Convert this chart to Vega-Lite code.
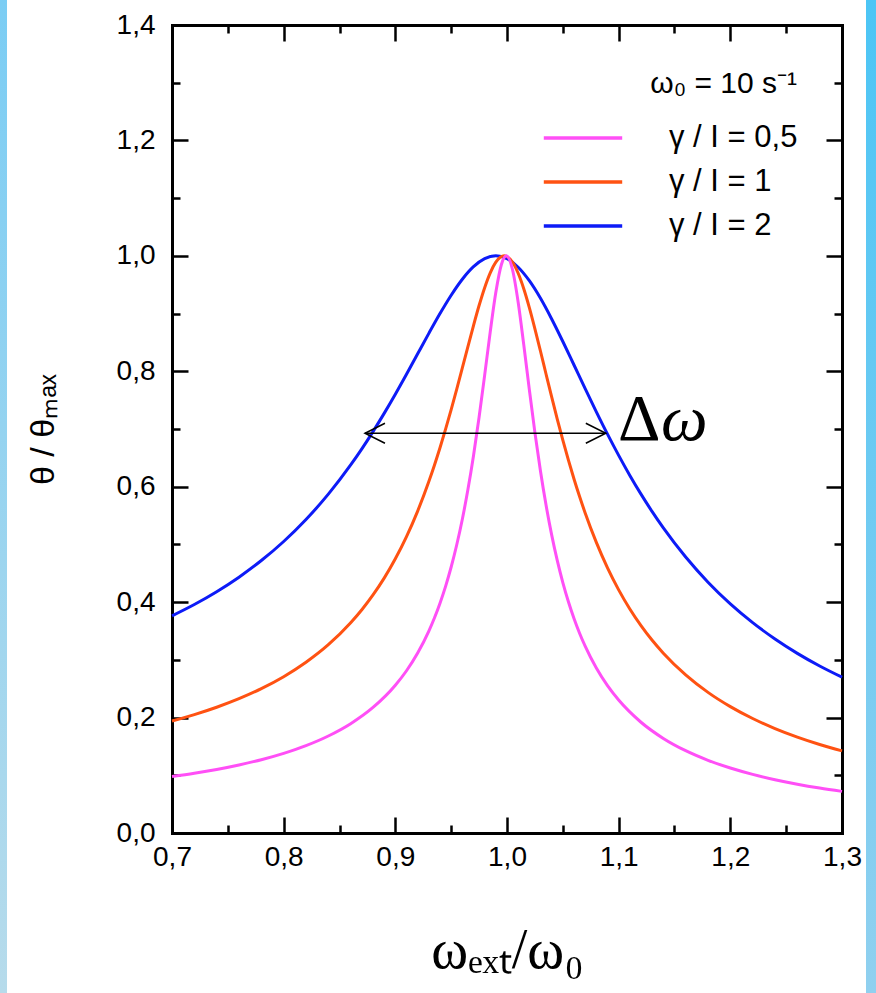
{
  "$schema": "https://vega.github.io/schema/vega-lite/v6.json",
  "background": "white",
  "padding": 0,
  "spacing": 0,
  "resolve": {"legend": {"color": "independent"}},
  "config": {"view": {"stroke": null}, "font": "Liberation Sans"},
  "hconcat": [
    {
      "width": 7, "height": 993,
      "data": {"values": []},
      "mark": {"type": "point"},
      "encoding": {},
      "view": {"stroke": null, "fill": {"gradient": "linear", "x1": 0, "y1": 0, "x2": 0, "y2": 1, "stops": [{"offset": 0, "color": "#7bcdf4"}, {"offset": 1, "color": "#b6dbeb"}]}}
    },
    {
      "width": 19, "height": 1,
      "data": {"values": []},
      "mark": {"type": "point"},
      "encoding": {}
    },
    {
      "spacing": 0,
      "resolve": {"legend": {"color": "independent"}},
      "vconcat": [
        {
          "width": 1, "height": 11,
          "data": {"values": []},
          "mark": {"type": "point"},
          "encoding": {}
        },
        {
          "width": 670,
          "height": 808,
          "resolve": {"axis": {"x": "independent", "y": "independent"}},
          "layer": [
            {
              "data": {"values": [
                {"r": 0.70, "v": 0.3763, "c": "γ / I = 2"},
                {"r": 0.72, "v": 0.3959, "c": "γ / I = 2"},
                {"r": 0.74, "v": 0.4181, "c": "γ / I = 2"},
                {"r": 0.76, "v": 0.4433, "c": "γ / I = 2"},
                {"r": 0.78, "v": 0.4721, "c": "γ / I = 2"},
                {"r": 0.80, "v": 0.5051, "c": "γ / I = 2"},
                {"r": 0.82, "v": 0.5432, "c": "γ / I = 2"},
                {"r": 0.84, "v": 0.5871, "c": "γ / I = 2"},
                {"r": 0.86, "v": 0.6377, "c": "γ / I = 2"},
                {"r": 0.87, "v": 0.6656, "c": "γ / I = 2"},
                {"r": 0.88, "v": 0.6955, "c": "γ / I = 2"},
                {"r": 0.89, "v": 0.7271, "c": "γ / I = 2"},
                {"r": 0.90, "v": 0.7603, "c": "γ / I = 2"},
                {"r": 0.91, "v": 0.7949, "c": "γ / I = 2"},
                {"r": 0.92, "v": 0.8303, "c": "γ / I = 2"},
                {"r": 0.93, "v": 0.8657, "c": "γ / I = 2"},
                {"r": 0.94, "v": 0.9000, "c": "γ / I = 2"},
                {"r": 0.95, "v": 0.9318, "c": "γ / I = 2"},
                {"r": 0.96, "v": 0.9595, "c": "γ / I = 2"},
                {"r": 0.97, "v": 0.9812, "c": "γ / I = 2"},
                {"r": 0.98, "v": 0.9952, "c": "γ / I = 2"},
                {"r": 0.99, "v": 1.0000, "c": "γ / I = 2"},
                {"r": 1.00, "v": 0.9950, "c": "γ / I = 2"},
                {"r": 1.01, "v": 0.9803, "c": "γ / I = 2"},
                {"r": 1.02, "v": 0.9569, "c": "γ / I = 2"},
                {"r": 1.03, "v": 0.9264, "c": "γ / I = 2"},
                {"r": 1.04, "v": 0.8906, "c": "γ / I = 2"},
                {"r": 1.05, "v": 0.8516, "c": "γ / I = 2"},
                {"r": 1.06, "v": 0.8109, "c": "γ / I = 2"},
                {"r": 1.07, "v": 0.7700, "c": "γ / I = 2"},
                {"r": 1.08, "v": 0.7298, "c": "γ / I = 2"},
                {"r": 1.09, "v": 0.6911, "c": "γ / I = 2"},
                {"r": 1.10, "v": 0.6543, "c": "γ / I = 2"},
                {"r": 1.11, "v": 0.6196, "c": "γ / I = 2"},
                {"r": 1.12, "v": 0.5871, "c": "γ / I = 2"},
                {"r": 1.13, "v": 0.5568, "c": "γ / I = 2"},
                {"r": 1.14, "v": 0.5286, "c": "γ / I = 2"},
                {"r": 1.16, "v": 0.4781, "c": "γ / I = 2"},
                {"r": 1.18, "v": 0.4346, "c": "γ / I = 2"},
                {"r": 1.20, "v": 0.3970, "c": "γ / I = 2"},
                {"r": 1.22, "v": 0.3645, "c": "γ / I = 2"},
                {"r": 1.24, "v": 0.3361, "c": "γ / I = 2"},
                {"r": 1.26, "v": 0.3112, "c": "γ / I = 2"},
                {"r": 1.28, "v": 0.2893, "c": "γ / I = 2"},
                {"r": 1.30, "v": 0.2699, "c": "γ / I = 2"},

                {"r": 0.70, "v": 0.1940, "c": "γ / I = 1"},
                {"r": 0.72, "v": 0.2051, "c": "γ / I = 1"},
                {"r": 0.74, "v": 0.2179, "c": "γ / I = 1"},
                {"r": 0.76, "v": 0.2327, "c": "γ / I = 1"},
                {"r": 0.78, "v": 0.2501, "c": "γ / I = 1"},
                {"r": 0.80, "v": 0.2708, "c": "γ / I = 1"},
                {"r": 0.82, "v": 0.2958, "c": "γ / I = 1"},
                {"r": 0.84, "v": 0.3262, "c": "γ / I = 1"},
                {"r": 0.86, "v": 0.3642, "c": "γ / I = 1"},
                {"r": 0.87, "v": 0.3868, "c": "γ / I = 1"},
                {"r": 0.88, "v": 0.4124, "c": "γ / I = 1"},
                {"r": 0.89, "v": 0.4416, "c": "γ / I = 1"},
                {"r": 0.90, "v": 0.4751, "c": "γ / I = 1"},
                {"r": 0.91, "v": 0.5135, "c": "γ / I = 1"},
                {"r": 0.92, "v": 0.5578, "c": "γ / I = 1"},
                {"r": 0.93, "v": 0.6090, "c": "γ / I = 1"},
                {"r": 0.935, "v": 0.6373, "c": "γ / I = 1"},
                {"r": 0.94, "v": 0.6675, "c": "γ / I = 1"},
                {"r": 0.945, "v": 0.6997, "c": "γ / I = 1"},
                {"r": 0.95, "v": 0.7337, "c": "γ / I = 1"},
                {"r": 0.955, "v": 0.7692, "c": "γ / I = 1"},
                {"r": 0.96, "v": 0.8058, "c": "γ / I = 1"},
                {"r": 0.965, "v": 0.8428, "c": "γ / I = 1"},
                {"r": 0.97, "v": 0.8793, "c": "γ / I = 1"},
                {"r": 0.975, "v": 0.9139, "c": "γ / I = 1"},
                {"r": 0.98, "v": 0.9449, "c": "γ / I = 1"},
                {"r": 0.985, "v": 0.9706, "c": "γ / I = 1"},
                {"r": 0.99, "v": 0.9890, "c": "γ / I = 1"},
                {"r": 0.9975, "v": 1.0000, "c": "γ / I = 1"},
                {"r": 1.005, "v": 0.9889, "c": "γ / I = 1"},
                {"r": 1.01, "v": 0.9698, "c": "γ / I = 1"},
                {"r": 1.015, "v": 0.9431, "c": "γ / I = 1"},
                {"r": 1.02, "v": 0.9104, "c": "γ / I = 1"},
                {"r": 1.025, "v": 0.8736, "c": "γ / I = 1"},
                {"r": 1.03, "v": 0.8347, "c": "γ / I = 1"},
                {"r": 1.035, "v": 0.7949, "c": "γ / I = 1"},
                {"r": 1.04, "v": 0.7555, "c": "γ / I = 1"},
                {"r": 1.045, "v": 0.7173, "c": "γ / I = 1"},
                {"r": 1.05, "v": 0.6807, "c": "γ / I = 1"},
                {"r": 1.055, "v": 0.6460, "c": "γ / I = 1"},
                {"r": 1.06, "v": 0.6134, "c": "γ / I = 1"},
                {"r": 1.065, "v": 0.5829, "c": "γ / I = 1"},
                {"r": 1.07, "v": 0.5545, "c": "γ / I = 1"},
                {"r": 1.08, "v": 0.5035, "c": "γ / I = 1"},
                {"r": 1.09, "v": 0.4594, "c": "γ / I = 1"},
                {"r": 1.10, "v": 0.4213, "c": "γ / I = 1"},
                {"r": 1.11, "v": 0.3882, "c": "γ / I = 1"},
                {"r": 1.12, "v": 0.3593, "c": "γ / I = 1"},
                {"r": 1.13, "v": 0.3339, "c": "γ / I = 1"},
                {"r": 1.14, "v": 0.3116, "c": "γ / I = 1"},
                {"r": 1.16, "v": 0.2740, "c": "γ / I = 1"},
                {"r": 1.18, "v": 0.2437, "c": "γ / I = 1"},
                {"r": 1.20, "v": 0.2190, "c": "γ / I = 1"},
                {"r": 1.22, "v": 0.1984, "c": "γ / I = 1"},
                {"r": 1.24, "v": 0.1810, "c": "γ / I = 1"},
                {"r": 1.26, "v": 0.1662, "c": "γ / I = 1"},
                {"r": 1.28, "v": 0.1534, "c": "γ / I = 1"},
                {"r": 1.30, "v": 0.1422, "c": "γ / I = 1"},

                {"r": 0.70, "v": 0.0978, "c": "γ / I = 0,5"},
                {"r": 0.72, "v": 0.1035, "c": "γ / I = 0,5"},
                {"r": 0.74, "v": 0.1101, "c": "γ / I = 0,5"},
                {"r": 0.76, "v": 0.1179, "c": "γ / I = 0,5"},
                {"r": 0.78, "v": 0.1270, "c": "γ / I = 0,5"},
                {"r": 0.80, "v": 0.1380, "c": "γ / I = 0,5"},
                {"r": 0.82, "v": 0.1514, "c": "γ / I = 0,5"},
                {"r": 0.84, "v": 0.1681, "c": "γ / I = 0,5"},
                {"r": 0.86, "v": 0.1894, "c": "γ / I = 0,5"},
                {"r": 0.88, "v": 0.2175, "c": "γ / I = 0,5"},
                {"r": 0.90, "v": 0.2560, "c": "γ / I = 0,5"},
                {"r": 0.91, "v": 0.2811, "c": "γ / I = 0,5"},
                {"r": 0.92, "v": 0.3118, "c": "γ / I = 0,5"},
                {"r": 0.93, "v": 0.3499, "c": "γ / I = 0,5"},
                {"r": 0.935, "v": 0.3725, "c": "γ / I = 0,5"},
                {"r": 0.94, "v": 0.3982, "c": "γ / I = 0,5"},
                {"r": 0.945, "v": 0.4274, "c": "γ / I = 0,5"},
                {"r": 0.95, "v": 0.4609, "c": "γ / I = 0,5"},
                {"r": 0.955, "v": 0.4994, "c": "γ / I = 0,5"},
                {"r": 0.96, "v": 0.5437, "c": "γ / I = 0,5"},
                {"r": 0.965, "v": 0.5950, "c": "γ / I = 0,5"},
                {"r": 0.97, "v": 0.6538, "c": "γ / I = 0,5"},
                {"r": 0.975, "v": 0.7204, "c": "γ / I = 0,5"},
                {"r": 0.98, "v": 0.7934, "c": "γ / I = 0,5"},
                {"r": 0.985, "v": 0.8685, "c": "γ / I = 0,5"},
                {"r": 0.99, "v": 0.9369, "c": "γ / I = 0,5"},
                {"r": 0.995, "v": 0.9851, "c": "γ / I = 0,5"},
                {"r": 0.9994, "v": 1.0000, "c": "γ / I = 0,5"},
                {"r": 1.005, "v": 0.9755, "c": "γ / I = 0,5"},
                {"r": 1.01, "v": 0.9196, "c": "γ / I = 0,5"},
                {"r": 1.015, "v": 0.8462, "c": "γ / I = 0,5"},
                {"r": 1.02, "v": 0.7682, "c": "γ / I = 0,5"},
                {"r": 1.025, "v": 0.6938, "c": "γ / I = 0,5"},
                {"r": 1.03, "v": 0.6267, "c": "γ / I = 0,5"},
                {"r": 1.035, "v": 0.5677, "c": "γ / I = 0,5"},
                {"r": 1.04, "v": 0.5166, "c": "γ / I = 0,5"},
                {"r": 1.045, "v": 0.4723, "c": "γ / I = 0,5"},
                {"r": 1.05, "v": 0.4340, "c": "γ / I = 0,5"},
                {"r": 1.055, "v": 0.4007, "c": "γ / I = 0,5"},
                {"r": 1.06, "v": 0.3717, "c": "γ / I = 0,5"},
                {"r": 1.065, "v": 0.3461, "c": "γ / I = 0,5"},
                {"r": 1.07, "v": 0.3236, "c": "γ / I = 0,5"},
                {"r": 1.08, "v": 0.2857, "c": "γ / I = 0,5"},
                {"r": 1.09, "v": 0.2552, "c": "γ / I = 0,5"},
                {"r": 1.10, "v": 0.2303, "c": "γ / I = 0,5"},
                {"r": 1.12, "v": 0.1919, "c": "γ / I = 0,5"},
                {"r": 1.14, "v": 0.1639, "c": "γ / I = 0,5"},
                {"r": 1.16, "v": 0.1426, "c": "γ / I = 0,5"},
                {"r": 1.18, "v": 0.1260, "c": "γ / I = 0,5"},
                {"r": 1.20, "v": 0.1126, "c": "γ / I = 0,5"},
                {"r": 1.22, "v": 0.1016, "c": "γ / I = 0,5"},
                {"r": 1.24, "v": 0.0924, "c": "γ / I = 0,5"},
                {"r": 1.26, "v": 0.0846, "c": "γ / I = 0,5"},
                {"r": 1.28, "v": 0.0779, "c": "γ / I = 0,5"},
                {"r": 1.30, "v": 0.0721, "c": "γ / I = 0,5"}
              ]},
              "mark": {"type": "line", "interpolate": "monotone", "strokeWidth": 3},
              "encoding": {
                "x": {
                  "field": "r", "type": "quantitative",
                  "scale": {"domain": [0.7, 1.3], "nice": false, "zero": false},
                  "axis": {
                    "orient": "bottom",
                    "values": [0.7, 0.75, 0.8, 0.85, 0.9, 0.95, 1.0, 1.05, 1.1, 1.15, 1.2, 1.25, 1.3],
                    "labelExpr": "round(datum.value * 20) % 2 == 1 ? '' : replace(format(datum.value, '.1f'), '.', ',')",
                    "labelFont": "Liberation Sans", "labelFontSize": 28, "labelColor": "black",
                    "labelPadding": 26, "labelOverlap": false, "labelFlush": false, "labelBound": false,
                    "tickColor": "black", "tickWidth": 2.5,
                    "tickSize": {"condition": {"test": "round(datum.value * 20) % 2 == 1", "value": -8}, "value": -16},
                    "domainColor": "black", "domainWidth": 3, "domainCap": "square",
                    "grid": false,
                    "title": "ωₑₓₜ/ω₀",
                    "titleFont": "Liberation Serif", "titleFontSize": 56, "titleFontWeight": "normal",
                    "titleColor": "black", "titlePadding": 44
                  }
                },
                "y": {
                  "field": "v", "type": "quantitative",
                  "scale": {"domain": [0, 1.4], "nice": false, "zero": false},
                  "axis": {
                    "orient": "left",
                    "values": [0, 0.1, 0.2, 0.3, 0.4, 0.5, 0.6, 0.7, 0.8, 0.9, 1.0, 1.1, 1.2, 1.3, 1.4],
                    "labelExpr": "round(datum.value * 10) % 2 == 1 ? '' : replace(format(datum.value, '.1f'), '.', ',')",
                    "labelFont": "Liberation Sans", "labelFontSize": 28, "labelColor": "black",
                    "labelPadding": 33, "labelOverlap": false, "labelFlush": false, "labelBound": false,
                    "tickColor": "black", "tickWidth": 2.5,
                    "tickSize": {"condition": {"test": "round(datum.value * 10) % 2 == 1", "value": -8}, "value": -16},
                    "domainColor": "black", "domainWidth": 3, "domainCap": "square",
                    "grid": false,
                    "title": "θ / θₘₐₓ",
                    "titleFont": "Liberation Sans", "titleFontSize": 34, "titleFontWeight": "normal",
                    "titleColor": "black", "titlePadding": 56
                  }
                },
                "color": {
                  "field": "c", "type": "nominal",
                  "scale": {
                    "domain": ["γ / I = 0,5", "γ / I = 1", "γ / I = 2"],
                    "range": ["#ff4ff6", "#ff5212", "#0d1bf7"]
                  },
                  "legend": {
                    "orient": "top-right", "offset": 44, "padding": 0,
                    "title": "ω₀ = 10 s⁻¹",
                    "titleFont": "Liberation Sans", "titleFontSize": 30, "titleFontWeight": "normal",
                    "titleColor": "black", "titleAnchor": "end", "titlePadding": 23,
                    "labelFont": "Liberation Sans", "labelFontSize": 31, "labelColor": "black",
                    "labelOffset": 70, "labelLimit": 400,
                    "symbolType": "M-2.8,0H2.8", "symbolSize": 784, "symbolStrokeWidth": 3.5,
                    "rowPadding": 13
                  }
                }
              }
            },
            {
              "data": {"values": [{"from": 0.8728, "to": 1.0885, "level": 0.6926}]},
              "mark": {"type": "rule", "color": "black", "strokeWidth": 1.5},
              "encoding": {
                "x": {
                  "field": "from", "type": "quantitative",
                  "scale": {"domain": [0.7, 1.3], "nice": false, "zero": false},
                  "axis": {
                    "orient": "top", "labels": false, "title": null, "grid": false,
                    "values": [0.7, 0.75, 0.8, 0.85, 0.9, 0.95, 1.0, 1.05, 1.1, 1.15, 1.2, 1.25, 1.3],
                    "tickColor": "black", "tickWidth": 2.5,
                    "tickSize": {"condition": {"test": "round(datum.value * 20) % 2 == 1", "value": -8}, "value": -16},
                    "domainColor": "black", "domainWidth": 3, "domainCap": "square"
                  }
                },
                "x2": {"field": "to"},
                "y": {
                  "field": "level", "type": "quantitative",
                  "scale": {"domain": [0, 1.4], "nice": false, "zero": false},
                  "axis": {
                    "orient": "right", "labels": false, "title": null, "grid": false,
                    "values": [0, 0.1, 0.2, 0.3, 0.4, 0.5, 0.6, 0.7, 0.8, 0.9, 1.0, 1.1, 1.2, 1.3, 1.4],
                    "tickColor": "black", "tickWidth": 2.5,
                    "tickSize": {"condition": {"test": "round(datum.value * 10) % 2 == 1", "value": -8}, "value": -16},
                    "domainColor": "black", "domainWidth": 3, "domainCap": "square"
                  }
                }
              }
            },
            {
              "data": {"values": [
                {"at": 0.8728, "level": 0.6926, "side": "left"},
                {"at": 1.0885, "level": 0.6926, "side": "right"}
              ]},
              "mark": {"type": "point", "size": 1600, "filled": false, "stroke": "black", "strokeWidth": 1.5, "opacity": 1},
              "encoding": {
                "x": {"field": "at", "type": "quantitative", "scale": {"domain": [0.7, 1.3], "nice": false, "zero": false}, "axis": null},
                "y": {"field": "level", "type": "quantitative", "scale": {"domain": [0, 1.4], "nice": false, "zero": false}, "axis": null},
                "shape": {
                  "field": "side", "type": "nominal", "legend": null,
                  "scale": {"domain": ["left", "right"], "range": ["M1,-0.5L0,0L1,0.5", "M-1,-0.5L0,0L-1,0.5"]}
                }
              }
            },
            {
              "data": {"values": [
                {"at": 1.0994, "level": 0.6805, "part": "Δ"},
                {"at": 1.1379, "level": 0.6805, "part": "ω"}
              ]},
              "transform": [{"filter": "datum.part == 'Δ'"}],
              "mark": {"type": "text", "align": "left", "baseline": "alphabetic", "font": "Liberation Serif", "fontSize": 66, "color": "black"},
              "encoding": {
                "x": {"field": "at", "type": "quantitative", "scale": {"domain": [0.7, 1.3], "nice": false, "zero": false}, "axis": null},
                "y": {"field": "level", "type": "quantitative", "scale": {"domain": [0, 1.4], "nice": false, "zero": false}, "axis": null},
                "text": {"field": "part"}
              }
            },
            {
              "data": {"values": [
                {"at": 1.0994, "level": 0.6805, "part": "Δ"},
                {"at": 1.1379, "level": 0.6805, "part": "ω"}
              ]},
              "transform": [{"filter": "datum.part == 'ω'"}],
              "mark": {"type": "text", "align": "left", "baseline": "alphabetic", "font": "Liberation Serif", "fontSize": 66, "fontStyle": "italic", "color": "black"},
              "encoding": {
                "x": {"field": "at", "type": "quantitative", "scale": {"domain": [0.7, 1.3], "nice": false, "zero": false}, "axis": null},
                "y": {"field": "level", "type": "quantitative", "scale": {"domain": [0, 1.4], "nice": false, "zero": false}, "axis": null},
                "text": {"field": "part"}
              }
            }
          ]
        }
      ]
    },
    {
      "width": 4, "height": 1,
      "data": {"values": []},
      "mark": {"type": "point"},
      "encoding": {}
    },
    {
      "width": 10, "height": 993,
      "data": {"values": []},
      "mark": {"type": "point"},
      "encoding": {},
      "view": {"stroke": null, "fill": {"gradient": "linear", "x1": 0, "y1": 0, "x2": 0, "y2": 1, "stops": [{"offset": 0, "color": "#4cc5f5"}, {"offset": 1, "color": "#90d0ef"}]}}
    }
  ]
}
